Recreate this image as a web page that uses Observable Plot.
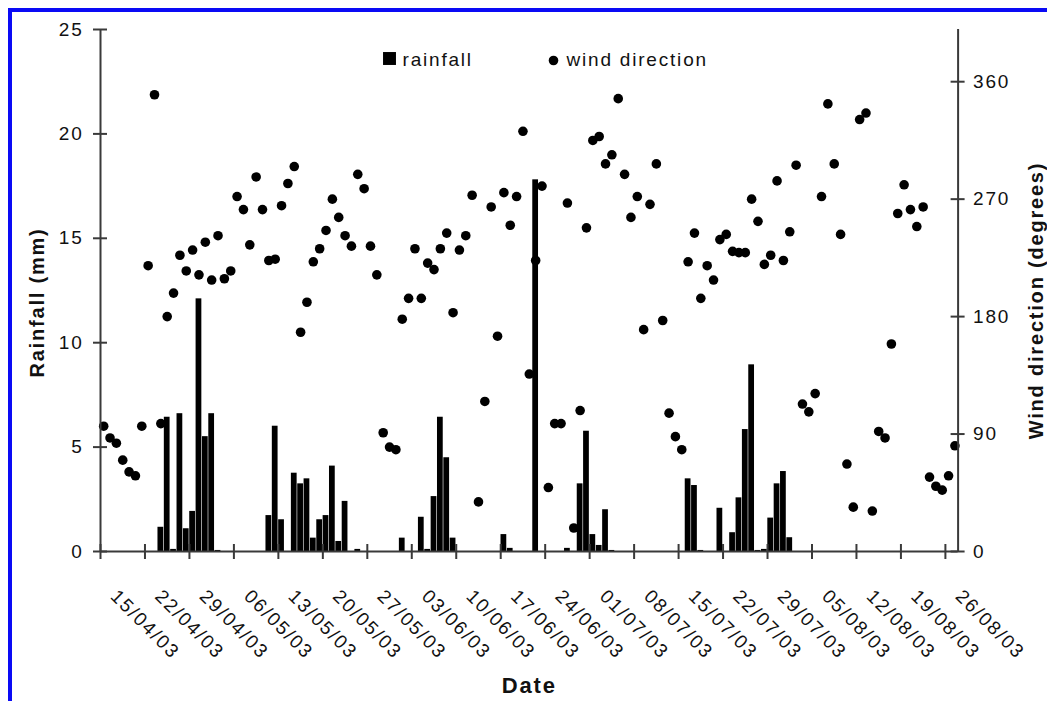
<!DOCTYPE html>
<html>
<head>
<meta charset="utf-8">
<script src="https://cdn.jsdelivr.net/npm/d3@7"></script>
<script src="https://cdn.jsdelivr.net/npm/@observablehq/plot@0.6"></script>
<style>
  html, body { margin: 0; padding: 0; background: #fff; }
  #wrap { position: relative; width: 1047px; height: 701px; overflow: hidden; }
  #frame { position: absolute; left: 8px; top: 8px; width: 1100px; height: 760px;
           border-left: 4px solid #0a0af5; border-top: 4px solid #0a0af5; pointer-events: none; }
</style>
</head>
<body>
<div id="wrap"><div id="chart"></div><div id="frame"></div></div>
<script>
// ---- data (one value per day, starting 15/04/03) ----
const firstDay = "2003-04-15";
const lastDayEnd = "2003-08-28";

// daily rainfall (mm)
const rainfall = [
  0, 0, 0, 0, 0, 0, 0, 0, 0, 1.16,
  6.43, 0.1, 6.6, 1.09, 1.92, 12.1, 5.5, 6.6, 0.05, 0,
  0, 0, 0, 0, 0, 0, 1.72, 6.0, 1.52, 0,
  3.75, 3.24, 3.48, 0.64, 1.52, 1.72, 4.09, 0.48, 2.4, 0,
  0.1, 0, 0, 0, 0, 0, 0, 0.64, 0, 0,
  1.64, 0.1, 2.63, 6.43, 4.49, 0.64, 0, 0, 0, 0,
  0, 0, 0, 0.81, 0.15, 0, 0, 0, 17.8, 0,
  0, 0, 0, 0.15, 0, 3.24, 5.76, 0.81, 0.29, 2.0,
  0.05, 0, 0, 0, 0, 0, 0, 0, 0, 0,
  0, 0, 3.48, 3.16, 0.05, 0, 0, 2.07, 0, 0.9,
  2.57, 5.84, 8.94, 0.05, 0.1, 1.6, 3.24, 3.83, 0.66, 0,
  0, 0, 0, 0, 0, 0, 0, 0, 0, 0,
  0, 0, 0, 0, 0, 0, 0, 0, 0, 0,
  0, 0, 0, 0, 0
];

// daily wind direction (degrees)
const windDirection = [
  96, 87, 83, 70, 61, 58, 96, 219, 350, 98,
  180, 198, 227, 215, 231, 212, 237, 208, 242, 209,
  215, 272, 262, 235, 287, 262, 223, 224, 265, 282,
  295, 168, 191, 222, 232, 246, 270, 256, 242, 234,
  289, 278, 234, 212, 91, 80, 78, 178, 194, 232,
  194, 221, 216, 232, 244, 183, 231, 242, 273, 38,
  115, 264, 165, 275, 250, 272, 322, 136, 223, 280,
  49, 98, 98, 267, 18, 108, 248, 315, 318, 297,
  304, 347, 289, 256, 272, 170, 266, 297, 177, 106,
  88, 78, 222, 244, 194, 219, 208, 239, 243, 230,
  229, 229, 270, 253, 220, 227, 284, 223, 245, 296,
  113, 107, 121, 272, 343, 297, 243, 67, 34, 331,
  336, 31, 92, 87, 159, 259, 281, 262, 249, 264,
  57, 50, 47, 58, 81
];

// tick labels
const dateTickLabels = ["15/04/03","22/04/03","29/04/03","06/05/03","13/05/03","20/05/03","27/05/03",
  "03/06/03","10/06/03","17/06/03","24/06/03","01/07/03","08/07/03","15/07/03","22/07/03","29/07/03",
  "05/08/03","12/08/03","19/08/03","26/08/03"];
const rainTicks = [0, 5, 10, 15, 20, 25];
const windTicks = [0, 90, 180, 270, 360];
const rainMax = 25;
const windMax = 400;

// ---- build table ----
const parseISO = d3.utcParse("%Y-%m-%d");
const parseTick = d3.utcParse("%d/%m/%y");
const start = parseISO(firstDay);
const end = parseISO(lastDayEnd);
const days = rainfall.map((r, i) => {
  const date = d3.utcDay.offset(start, i);
  return {date, next: d3.utcDay.offset(date, 1), mid: d3.utcHour.offset(date, 12), rain: r, wind: windDirection[i]};
});
const rainDays = days.filter(d => d.rain > 0);
const tickDates = dateTickLabels.map(parseTick);
const w2r = rainMax / windMax; // wind degrees -> rainfall-axis units

const axisColor = "#3a3a3a";
const font = "'Liberation Sans', Arial, Helvetica, sans-serif";

const chart = Plot.plot({
  width: 1047,
  height: 701,
  marginLeft: 100,
  marginRight: 89.4,
  marginTop: 29,
  marginBottom: 150,
  x: {type: "utc", domain: [start, end], axis: null},
  y: {domain: [0, rainMax]},
  style: {fontFamily: font, background: "white", color: "#111", letterSpacing: "1.8px", overflow: "visible"},
  marks: [
    // rainfall bars
    Plot.rectY(rainDays, {x1: "date", x2: "next", y: "rain", fill: "black", insetLeft: 0.3, insetRight: 0.3}),
    // wind direction dots (secondary axis)
    Plot.dot(days, {x: "mid", y: d => d.wind * w2r, r: 4.8, fill: "black", stroke: "none"}),

    // axis lines
    Plot.ruleY([0], {stroke: axisColor, strokeWidth: 2}),
    Plot.ruleX([start], {stroke: axisColor, strokeWidth: 2}),
    Plot.ruleX([end], {stroke: axisColor, strokeWidth: 2}),

    // cross ticks
    Plot.ruleX(tickDates, {x: d => d, y1: () => 0, y2: () => 0, insetTop: -7, insetBottom: -8, stroke: axisColor, strokeWidth: 2}),
    Plot.ruleY(rainTicks, {y: d => d, x1: () => start, x2: () => start, insetLeft: -7, insetRight: -7, stroke: axisColor, strokeWidth: 2}),
    Plot.ruleY(windTicks, {y: d => d * w2r, x1: () => end, x2: () => end, insetLeft: -7, insetRight: -7, stroke: axisColor, strokeWidth: 2}),

    // tick labels
    Plot.axisY({ticks: rainTicks, tickSize: 0, tickPadding: 17, fontSize: 19, label: null, tickFormat: d => String(d)}),
    Plot.axisY({anchor: "right", ticks: windTicks.map(v => v * w2r), tickFormat: v => String(Math.round(v / w2r)),
                tickSize: 0, tickPadding: 15, fontSize: 19, label: null}),
    Plot.text(tickDates, {x: d => d, text: (d, i) => dateTickLabels[i], frameAnchor: "bottom", rotate: 45,
                textAnchor: "start", lineAnchor: "bottom", dx: 9, dy: 46, fontSize: 19, fill: "#111"}),

    // axis titles
    Plot.text(["Date"], {frameAnchor: "bottom", dy: 141, lineAnchor: "bottom", textAnchor: "middle", fontSize: 22, fontWeight: "bold", fill: "#111"}),
    Plot.text(["Rainfall (mm)"], {frameAnchor: "left", rotate: -90, textAnchor: "middle", lineAnchor: "middle", dx: -63, dy: 12, fontSize: 20, fontWeight: "bold", fill: "#111"}),
    Plot.text(["Wind direction (degrees)"], {frameAnchor: "right", rotate: -90, textAnchor: "middle", lineAnchor: "middle", dx: 78, dy: 10, fontSize: 20, fontWeight: "bold", fill: "#111"}),

    // legend
    Plot.dot(["rainfall"], {frameAnchor: "top-left", dx: 289, dy: 29, symbol: "square", r: 7.3, fill: "black", stroke: "none"}),
    Plot.text(["rainfall"], {frameAnchor: "top-left", dx: 302, dy: 36, textAnchor: "start", lineAnchor: "bottom", fontSize: 19, fill: "#111"}),
    Plot.dot(["wind direction"], {frameAnchor: "top-left", dx: 453, dy: 31, r: 4.8, fill: "black", stroke: "none"}),
    Plot.text(["wind direction"], {frameAnchor: "top-left", dx: 466, dy: 36, textAnchor: "start", lineAnchor: "bottom", fontSize: 19, fill: "#111"})
  ]
});
document.getElementById("chart").append(chart);
</script>
</body>
</html>
